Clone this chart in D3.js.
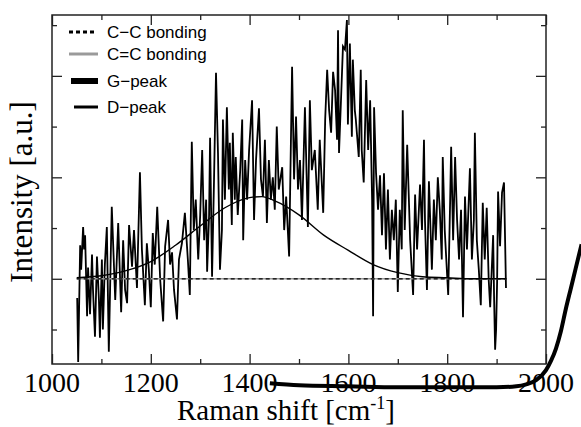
<!DOCTYPE html>
<html>
<head>
<meta charset="utf-8">
<script src="https://cdn.jsdelivr.net/npm/d3@7"></script>
<style>
  body { margin: 0; background: #fff; }
</style>
</head>
<body>
<div id="chart"></div>
<script>
// Raman spectrum (measured, noisy)
const ramanShift = [1051,1053,1057,1059,1063,1065,1067,1071,1073,1077,1081,1083,1087,1091,1095,1097,1101,1103,1107,1111,1115,1121,1128,1134,1140,1144,1148,1152,1156,1162,1166,1172,1178,1182,1188,1192,1196,1200,1204,1208,1213,1219,1225,1229,1235,1239,1243,1247,1253,1257,1263,1269,1275,1279,1283,1287,1291,1296,1300,1304,1308,1312,1314,1318,1320,1324,1328,1332,1336,1340,1344,1346,1350,1354,1358,1360,1364,1366,1370,1372,1376,1381,1385,1387,1391,1395,1399,1405,1409,1413,1419,1423,1427,1431,1435,1439,1443,1447,1451,1455,1459,1466,1470,1474,1480,1486,1490,1494,1498,1502,1506,1512,1518,1522,1526,1532,1538,1542,1549,1553,1557,1561,1565,1569,1573,1577,1579,1581,1585,1589,1593,1597,1599,1603,1607,1609,1613,1615,1621,1625,1627,1631,1636,1640,1644,1648,1650,1652,1656,1660,1664,1668,1672,1676,1680,1684,1688,1692,1696,1700,1704,1708,1710,1714,1719,1725,1731,1735,1739,1745,1749,1753,1755,1759,1763,1769,1773,1777,1781,1785,1789,1791,1795,1802,1806,1808,1812,1816,1820,1824,1828,1832,1836,1840,1846,1850,1854,1856,1860,1864,1868,1872,1876,1880,1884,1887,1891,1893,1895,1897,1899,1901,1903,1907,1911,1915,1919];
const intensity = [-19,-82,33,9,51,29,43,-37,11,-35,24,-11,-57,22,-21,-58,19,-50,14,51,-72,71,-21,55,-33,38,-11,-24,53,12,48,-9,105,29,-26,35,9,-28,45,14,71,-1,-42,32,58,14,26,-11,-40,19,35,65,19,-16,135,48,78,19,63,127,38,78,7,63,139,2,98,203,124,9,48,157,78,169,88,134,53,144,78,120,63,107,157,38,117,78,127,176,58,117,168,98,81,137,55,117,78,100,68,150,88,110,48,81,22,209,98,160,88,117,58,169,51,176,107,127,68,137,65,157,206,166,144,204,186,137,245,124,176,229,226,255,152,232,140,216,166,157,120,206,127,95,196,127,176,78,-37,169,104,68,102,43,104,29,88,19,68,38,78,-13,68,29,166,48,132,38,-16,83,29,93,48,137,58,-11,96,9,78,38,100,68,19,120,48,-16,78,130,38,120,58,19,68,-38,81,29,109,19,58,144,38,9,-26,75,19,70,-1,-28,19,43,-21,-70,-50,-4,86,32,85,95,-9];

// D-peak fit
const dPeakX = [1050,1100,1150,1200,1250,1300,1350,1400,1425,1450,1500,1550,1600,1650,1700,1750,1800,1850,1920];
const dPeakY = [1,3,8,17,33,52,70,80,81,77,63,43,28,14,6,2,1,0,0];

// G-peak fit
const gPeakX = [1441,1500,1600,1700,1800,1900,1940,1960,1980,2000,2010,2020,2030,2040,2050,2060,2072];
const gPeakY = [-103,-105,-106,-107,-107,-107,-106,-104,-100,-90,-81,-69,-52,-30,-10,10,34];

// bonding baselines
const bondX = [1050, 1920];
const ccBondY = [0, 0];
const c2BondY = [0, 0];

const legendLabels = ["C\u2212C bonding", "C=C bonding", "G\u2212peak", "D\u2212peak"];
const xMajorTicks = [1000, 1200, 1400, 1600, 1800, 2000];
const xMinorTicks = [1100, 1300, 1500, 1700, 1900];
const yMajorTicks = [0, 100, 200];
const yMinorTicks = [-50, 50, 150, 250];

const width = 581, height = 427;
const plot = { left: 52, right: 546, top: 15, bottom: 364 };

const svg = d3.select("#chart")
    .append("svg")
    .attr("width", width)
    .attr("height", height);

const xScale = d3.scaleLinear().domain([1000, 2000]).range([plot.left, plot.right]);
const yScale = d3.scaleLinear().domain([-84, 260]).range([plot.bottom, plot.top]);

const zip = (xs, ys) => xs.map((x, i) => [x, ys[i]]);
const line = d3.line().x(d => xScale(d[0])).y(d => yScale(d[1]));
const smooth = d3.line().x(d => xScale(d[0])).y(d => yScale(d[1])).curve(d3.curveMonotoneX);

// ticks (inward, on all four sides)
function addTicks(axisFn, pos, values, size) {
    const g = svg.append("g")
        .attr("transform", pos)
        .call(axisFn.tickValues(values).tickSize(-size).tickFormat(""));
    g.select(".domain").remove();
    g.selectAll("line").attr("stroke", "#222").attr("stroke-width", 1.3);
    return g;
}
addTicks(d3.axisBottom(xScale), `translate(0,${plot.bottom})`, xMajorTicks, 10);
addTicks(d3.axisBottom(xScale), `translate(0,${plot.bottom})`, xMinorTicks, 5);
addTicks(d3.axisTop(xScale), `translate(0,${plot.top})`, xMajorTicks, 10);
addTicks(d3.axisTop(xScale), `translate(0,${plot.top})`, xMinorTicks, 5);
addTicks(d3.axisLeft(yScale), `translate(${plot.left},0)`, yMajorTicks, 10);
addTicks(d3.axisLeft(yScale), `translate(${plot.left},0)`, yMinorTicks, 5);
addTicks(d3.axisRight(yScale), `translate(${plot.right},0)`, yMajorTicks, 10);
addTicks(d3.axisRight(yScale), `translate(${plot.right},0)`, yMinorTicks, 5);

// x tick labels
svg.selectAll(".xlabel")
    .data(xMajorTicks)
    .enter()
    .append("text")
    .attr("x", d => xScale(d))
    .attr("y", 392)
    .attr("text-anchor", "middle")
    .style("font-family", "'Liberation Serif', 'Times New Roman', serif")
    .style("font-size", "28px")
    .text(d => d);

// frame
svg.append("rect")
    .attr("x", plot.left)
    .attr("y", plot.top)
    .attr("width", plot.right - plot.left)
    .attr("height", plot.bottom - plot.top)
    .attr("fill", "none")
    .attr("stroke", "#222")
    .attr("stroke-width", 1.5);

// spectrum
svg.append("path")
    .datum(zip(ramanShift, intensity))
    .attr("d", line)
    .attr("fill", "none")
    .attr("stroke", "#000")
    .attr("stroke-width", 1.8)
    .attr("stroke-linejoin", "miter");

// bonding lines
svg.append("path")
    .datum(zip(bondX, c2BondY))
    .attr("d", line)
    .attr("fill", "none")
    .attr("stroke", "#9a9a9a")
    .attr("stroke-width", 1.6);
svg.append("path")
    .datum(zip(bondX, ccBondY))
    .attr("d", line)
    .attr("fill", "none")
    .attr("stroke", "#000")
    .attr("stroke-width", 1.2)
    .attr("stroke-dasharray", "4,3");

// D-peak
svg.append("path")
    .datum(zip(dPeakX, dPeakY))
    .attr("d", smooth)
    .attr("fill", "none")
    .attr("stroke", "#000")
    .attr("stroke-width", 1.4);

// G-peak (not clipped to the plot)
svg.append("path")
    .datum(zip(gPeakX, gPeakY))
    .attr("d", smooth)
    .attr("fill", "none")
    .attr("stroke", "#000")
    .attr("stroke-width", 4);

// legend
const legendY = [32, 54, 81, 107];
const legend = svg.append("g");
// C-C dotted
legend.append("line").attr("x1", 69).attr("x2", 96).attr("y1", legendY[0]).attr("y2", legendY[0])
    .attr("stroke", "#000").attr("stroke-width", 3).attr("stroke-dasharray", "4,3");
// C=C gray
legend.append("line").attr("x1", 69).attr("x2", 98).attr("y1", legendY[1]).attr("y2", legendY[1])
    .attr("stroke", "#9a9a9a").attr("stroke-width", 3);
// G-peak thick
legend.append("line").attr("x1", 71).attr("x2", 98).attr("y1", legendY[2]).attr("y2", legendY[2])
    .attr("stroke", "#000").attr("stroke-width", 6);
// D-peak
legend.append("line").attr("x1", 74).attr("x2", 98).attr("y1", legendY[3]).attr("y2", legendY[3])
    .attr("stroke", "#000").attr("stroke-width", 3);

legend.selectAll("text")
    .data(legendLabels)
    .enter()
    .append("text")
    .attr("x", 107)
    .attr("y", (d, i) => legendY[i] + 6)
    .style("font-family", "'Liberation Sans', Arial, sans-serif")
    .style("font-size", "17px")
    .text(d => d);

// axis titles
const xTitle = svg.append("text")
    .attr("x", 286)
    .attr("y", 420)
    .attr("text-anchor", "middle")
    .style("font-family", "'Liberation Serif', 'Times New Roman', serif")
    .style("font-size", "29px");
xTitle.append("tspan").text("Raman shift [cm");
xTitle.append("tspan").attr("dy", -11).style("font-size", "18px").text("-1");
xTitle.append("tspan").attr("dy", 11).text("]");

svg.append("text")
    .attr("transform", "translate(32,192) rotate(-90)")
    .attr("text-anchor", "middle")
    .style("font-family", "'Liberation Serif', 'Times New Roman', serif")
    .style("font-size", "31px")
    .text("Intensity [a.u.]");
</script>
</body>
</html>
